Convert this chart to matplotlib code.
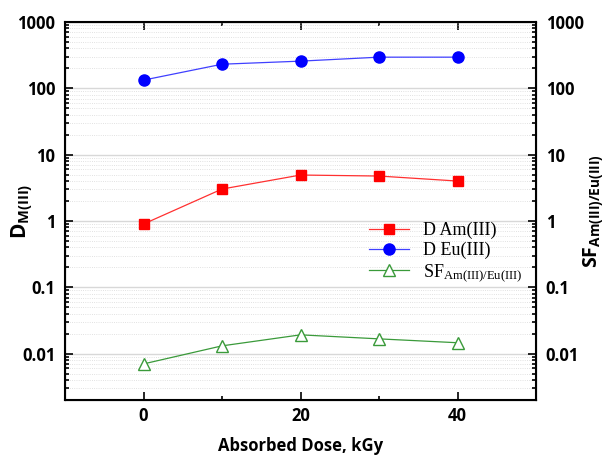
import matplotlib
matplotlib.use("Agg")
import matplotlib.pyplot as plt
from matplotlib.ticker import LogLocator, FixedLocator, NullFormatter, FuncFormatter

dose = [0, 10, 20, 30, 40]
d_am = [0.90, 3.03, 4.93, 4.76, 4.0]
d_eu = [133, 231, 257, 295, 295]
sf = [0.0070, 0.0131, 0.0192, 0.0167, 0.0146]

plt.rcParams['mathtext.default'] = 'regular'

fig = plt.figure(figsize=(6.14, 4.59), dpi=100)
ax = fig.add_axes([65/614, 1 - 400/459, 471/614, 378/459])

ax.plot(dose, d_am, color='#ff3030', lw=0.9, marker='s', ms=7,
        mfc='red', mec='red', label='D Am(III)')
ax.plot(dose, d_eu, color='#4040ff', lw=0.9, marker='o', ms=8,
        mfc='blue', mec='blue', label='D Eu(III)')
ax.plot(dose, sf, color='#3a9a3a', lw=0.9, marker='^', ms=8,
        mfc='white', mec='#3a9a3a', mew=1.0, label='SF$_{Am(III)/Eu(III)}$')

ax.set_yscale('log')
ax.set_ylim(0.002, 1000)
ax.set_xlim(-10, 50)
ax.set_xticks([0, 20, 40])
ax.xaxis.set_minor_locator(FixedLocator([10, 30]))

fmt = FuncFormatter(lambda v, p: f'{v:g}')


def log_axis(a):
    a.yaxis.set_major_locator(LogLocator(base=10, numticks=12))
    a.yaxis.set_major_formatter(fmt)
    a.yaxis.set_minor_locator(LogLocator(base=10, subs=range(2, 10), numticks=12))
    a.yaxis.set_minor_formatter(NullFormatter())


log_axis(ax)
ax.grid(True, which='major', axis='y', color='#d8d8d8', lw=1.0)
ax.grid(True, which='minor', axis='y', color='#d8d8d8', lw=0.6, ls=':')

ax.tick_params(which='both', direction='in', top=True, right=False,
               labelsize=12, width=1.2, pad=7)
ax.tick_params(which='major', length=6)
ax.tick_params(which='minor', length=3)
ax.tick_params(axis='x', pad=5)
for lab in ax.get_xticklabels() + ax.get_yticklabels():
    lab.set_fontweight('bold')
    lab.set_family('Open Sans')
for s in ax.spines.values():
    s.set_linewidth(1.5)

ax2 = ax.twinx()
ax2.set_yscale('log')
ax2.set_ylim(ax.get_ylim())
log_axis(ax2)
ax2.tick_params(which='both', direction='in', labelsize=12, width=1.2, pad=7)
ax2.tick_params(which='major', length=6)
ax2.tick_params(which='minor', length=3)
for lab in ax2.get_yticklabels():
    lab.set_fontweight('bold')
    lab.set_family('Open Sans')

ax.set_xlabel('Absorbed Dose, kGy', fontsize=12, fontweight='bold',
              family='Open Sans')
ax.xaxis.set_label_coords(0.5, -0.098)
ax.set_ylabel('D$_{M(III)}$', fontsize=15, fontweight='bold',
              family='Open Sans')
ax.yaxis.set_label_coords(-0.064, 0.5)
ax2.set_ylabel('SF$_{Am(III)/Eu(III)}$', fontsize=14, fontweight='bold',
               family='Open Sans')
ax2.yaxis.set_label_coords(1.098, 0.5)

leg = ax.legend(loc='upper left', bbox_to_anchor=(0.63, 0.49), frameon=False,
                prop={'family': 'Liberation Serif', 'size': 13},
                handlelength=2.2, labelspacing=0.15, borderaxespad=0)

fig.savefig('out.png', dpi=100)
